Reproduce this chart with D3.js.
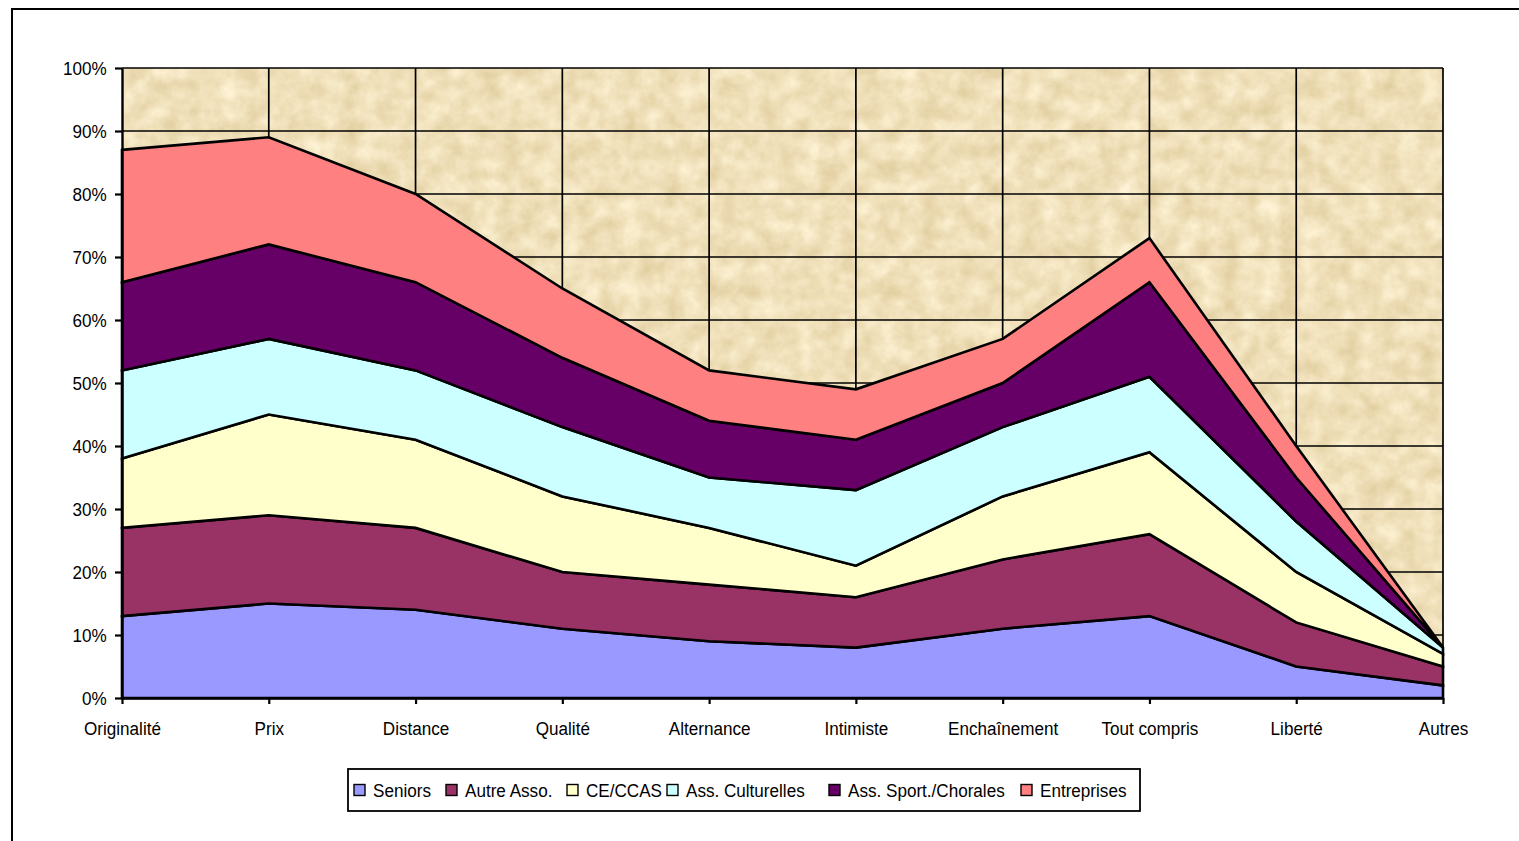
<!DOCTYPE html>
<html>
<head>
<meta charset="utf-8">
<script src="https://cdn.jsdelivr.net/npm/d3@7"></script>
<style>
  html, body { margin: 0; padding: 0; background: #fff; }
  svg { display: block; }
  text { font-family: "Liberation Sans", Arial, sans-serif; fill: #000; }
</style>
</head>
<body>
<svg id="chart" width="1519" height="841"></svg>
<script>
// catégories et séries (valeurs en %)
var categories = ['Originalité', 'Prix', 'Distance', 'Qualité', 'Alternance', 'Intimiste', 'Enchaînement', 'Tout compris', 'Liberté', 'Autres'];
var seriesNames = ['Seniors', 'Autre Asso.', 'CE/CCAS', 'Ass. Culturelles', 'Ass. Sport./Chorales', 'Entreprises'];
var seniors     = [13, 15, 14, 11, 9, 8, 11, 13, 5, 2];
var autreAsso   = [14, 14, 13, 9, 9, 8, 11, 13, 7, 3];
var ceCcas      = [11, 16, 14, 12, 9, 5, 10, 13, 8, 2];
var culturelles = [14, 12, 11, 11, 8, 12, 11, 12, 8, 1];
var sport       = [14, 15, 14, 11, 9, 8, 7, 15, 7, 0];
var entreprises = [21, 17, 14, 11, 8, 8, 7, 7, 5, 0];
var yTicks = [0, 10, 20, 30, 40, 50, 60, 70, 80, 90, 100];
var colors = ['#9999FF', '#993366', '#FFFFCC', '#CCFFFF', '#660066', '#FF8080'];

(function() {
    var allSeries = [seniors, autreAsso, ceCcas, culturelles, sport, entreprises];
    var rows = categories.map(function(c, i) {
        var r = { cat: c };
        seriesNames.forEach(function(s, k) { r[s] = allSeries[k][i]; });
        return r;
    });

    var svg = d3.select('#chart'),
        pLeft = 122, pRight = 1443, pTop = 68, pBottom = 698,
        squeeze = 'scale(0.9,1)';

    // cadre extérieur
    svg.append('rect')
        .attr('x', 12).attr('y', 9).attr('width', 1530).attr('height', 860)
        .attr('fill', '#fff').attr('stroke', '#000').attr('stroke-width', 2);

    // texture parchemin
    var defs = svg.append('defs');
    var f = defs.append('filter').attr('id', 'parch')
        .attr('x', 0).attr('y', 0).attr('width', '100%').attr('height', '100%')
        .attr('color-interpolation-filters', 'sRGB');
    f.append('feTurbulence').attr('type', 'fractalNoise')
        .attr('baseFrequency', 0.05).attr('numOctaves', 5).attr('seed', 11).attr('result', 'noise');
    f.append('feColorMatrix').attr('in', 'noise').attr('type', 'matrix')
        .attr('values', '0.14 0 0 0 0.87  0.18 0 0 0 0.79  0.26 0 0 0 0.6  0 0 0 0 1');

    var x = d3.scalePoint().domain(categories).range([pLeft, pRight]);
    var y = d3.scaleLinear().domain([0, 100]).range([pBottom, pTop]);

    svg.append('rect')
        .attr('x', pLeft).attr('y', pTop).attr('width', pRight - pLeft).attr('height', pBottom - pTop)
        .attr('filter', 'url(#parch)');

    // quadrillage
    var grid = svg.append('g').attr('stroke', '#000').attr('stroke-width', 1.7);
    grid.selectAll('line.h').data(yTicks.slice(1)).enter().append('line')
        .attr('x1', pLeft).attr('x2', pRight)
        .attr('y1', function(d) { return y(d); }).attr('y2', function(d) { return y(d); });
    grid.selectAll('line.v').data(categories.slice(1)).enter().append('line')
        .attr('y1', pTop).attr('y2', pBottom)
        .attr('x1', function(d) { return x(d); }).attr('x2', function(d) { return x(d); });

    // aires empilées
    var stacked = d3.stack().keys(seriesNames)(rows);
    var area = d3.area()
        .x(function(d) { return x(d.data.cat); })
        .y0(function(d) { return y(d[0]); })
        .y1(function(d) { return y(d[1]); });

    svg.append('g').selectAll('path').data(stacked).enter().append('path')
        .attr('d', area)
        .attr('fill', function(d, i) { return colors[i]; })
        .attr('stroke', '#000').attr('stroke-width', 2.6).attr('stroke-linejoin', 'miter');

    // axes
    var yAxis = svg.append('g').attr('transform', 'translate(' + pLeft + ',0)')
        .call(d3.axisLeft(y).tickValues(yTicks).tickFormat(function(d) { return d + '%'; })
            .tickSize(7).tickSizeOuter(0).tickPadding(10));
    var xAxis = svg.append('g').attr('transform', 'translate(0,' + pBottom + ')')
        .call(d3.axisBottom(x).tickSize(6).tickSizeOuter(0).tickPadding(18));

    [yAxis, xAxis].forEach(function(ax) {
        ax.select('.domain').attr('stroke', '#000').attr('stroke-width', 2.4);
        ax.selectAll('.tick line').attr('stroke', '#000').attr('stroke-width', 2.2);
        ax.selectAll('.tick text')
            .style('font-family', '"Liberation Sans", Arial, sans-serif')
            .style('font-size', '19px').attr('fill', '#000')
            .attr('transform', squeeze);
    });

    // légende
    var legendX = [354, 446, 567, 667, 829, 1021];
    var legend = svg.append('g');
    legend.append('rect')
        .attr('x', 348).attr('y', 769).attr('width', 792).attr('height', 42)
        .attr('fill', '#fff').attr('stroke', '#000').attr('stroke-width', 1.8);
    var item = legend.selectAll('g.item').data(seriesNames).enter().append('g')
        .attr('transform', function(d, i) { return 'translate(' + legendX[i] + ',790)'; });
    item.append('rect')
        .attr('x', 0).attr('y', -5.5).attr('width', 11).attr('height', 11)
        .attr('fill', function(d, i) { return colors[i]; })
        .attr('stroke', '#000').attr('stroke-width', 1.4);
    item.append('text')
        .attr('transform', 'translate(19,7) ' + squeeze)
        .style('font-size', '19px')
        .text(function(d) { return d; });
})();
</script>
</body>
</html>
